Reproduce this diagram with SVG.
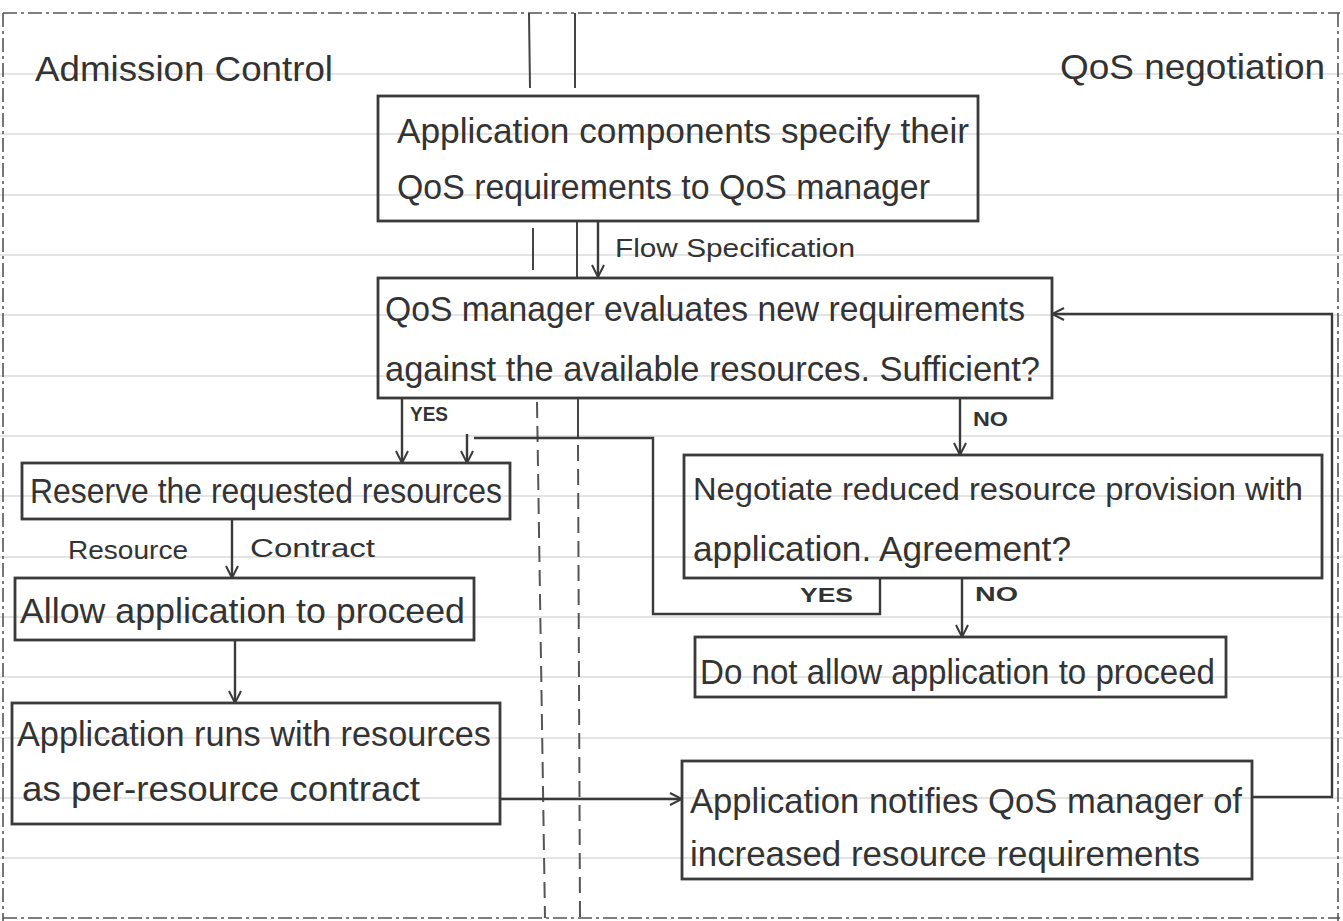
<svg xmlns="http://www.w3.org/2000/svg" width="1343" height="921" viewBox="0 0 1343 921">
<defs>
<style>
.rule{stroke:#c9c9c9;stroke-width:1.2}
.border{stroke:#555;stroke-width:1.6;stroke-dasharray:14 4 3 4;fill:none}
.div{stroke:#444;stroke-width:2;fill:none}
.dash{stroke:#555;stroke-width:2;stroke-dasharray:16 8;fill:none}
.box{fill:none;stroke:#3a3a3a;stroke-width:2.8}
.conn{fill:none;stroke:#3a3a3a;stroke-width:2.4}
.t{font-family:"Liberation Sans",Arial,sans-serif;fill:#333;font-size:35px}
.s{font-family:"Liberation Sans",Arial,sans-serif;fill:#333;font-size:25px}
.l{font-family:"Liberation Sans",Arial,sans-serif;fill:#333;font-size:20px;font-weight:bold}
</style>
<marker id="arr" viewBox="0 0 14 14" refX="13" refY="7" markerWidth="14" markerHeight="14" markerUnits="userSpaceOnUse" orient="auto">
<path d="M1,1 L13,7 L1,13" fill="none" stroke="#3a3a3a" stroke-width="2"/>
</marker>
</defs>
<rect x="0" y="0" width="1343" height="921" fill="#fff"/>
<g id="paper">
<line class="rule" x1="0" y1="74" x2="1343" y2="74"/>
<line class="rule" x1="0" y1="134" x2="1343" y2="134"/>
<line class="rule" x1="0" y1="195" x2="1343" y2="195"/>
<line class="rule" x1="0" y1="255" x2="1343" y2="255"/>
<line class="rule" x1="0" y1="315" x2="1343" y2="315"/>
<line class="rule" x1="0" y1="376" x2="1343" y2="376"/>
<line class="rule" x1="0" y1="436" x2="1343" y2="436"/>
<line class="rule" x1="0" y1="496" x2="1343" y2="496"/>
<line class="rule" x1="0" y1="557" x2="1343" y2="557"/>
<line class="rule" x1="0" y1="617" x2="1343" y2="617"/>
<line class="rule" x1="0" y1="677" x2="1343" y2="677"/>
<line class="rule" x1="0" y1="738" x2="1343" y2="738"/>
<line class="rule" x1="0" y1="798" x2="1343" y2="798"/>
<line class="rule" x1="0" y1="858" x2="1343" y2="858"/>
<path class="border" d="M3,13 H1340 M3,13 V921 M1338,13 V921 M3,918 H1340"/>
</g>
<g id="lanes">
<line class="div" x1="529" y1="13" x2="530" y2="88"/>
<line class="div" x1="575" y1="13" x2="575" y2="88"/>
<line class="div" x1="533" y1="228" x2="533" y2="270"/>
<line class="div" x1="577" y1="222" x2="577" y2="277"/>
<line class="div" x1="578" y1="398" x2="578" y2="438"/>
<line class="dash" x1="537" y1="402" x2="545" y2="918"/>
<line class="dash" x1="578" y1="445" x2="580" y2="918"/>
<text class="t" x="35" y="81" textLength="298" lengthAdjust="spacingAndGlyphs">Admission Control</text>
<text class="t" x="1060" y="79" textLength="265" lengthAdjust="spacingAndGlyphs">QoS negotiation</text>
</g>
<g id="connectors">
<line class="conn" x1="598" y1="221" x2="598" y2="277" marker-end="url(#arr)"/>
<line class="conn" x1="402" y1="398" x2="402" y2="463" marker-end="url(#arr)"/>
<path class="conn" d="M880,578 V614 H653 V438 H474"/>
<line class="conn" x1="467" y1="434" x2="467" y2="463" marker-end="url(#arr)"/>
<line class="conn" x1="960" y1="398" x2="960" y2="455" marker-end="url(#arr)"/>
<line class="conn" x1="962" y1="578" x2="962" y2="637" marker-end="url(#arr)"/>
<line class="conn" x1="232" y1="519" x2="232" y2="578" marker-end="url(#arr)"/>
<line class="conn" x1="235" y1="640" x2="235" y2="703" marker-end="url(#arr)"/>
<line class="conn" x1="500" y1="799" x2="682" y2="799" marker-end="url(#arr)"/>
<path class="conn" d="M1252,797 H1332 V314 H1052" marker-end="url(#arr)"/>
<text class="s" x="615" y="257" textLength="240" lengthAdjust="spacingAndGlyphs">Flow Specification</text>
<text class="l" x="410" y="421" textLength="38" lengthAdjust="spacingAndGlyphs">YES</text>
<text class="l" x="973" y="426" textLength="35" lengthAdjust="spacingAndGlyphs">NO</text>
<text class="s" x="68" y="559" textLength="120" lengthAdjust="spacingAndGlyphs">Resource</text>
<text class="s" x="250" y="557" textLength="125" lengthAdjust="spacingAndGlyphs">Contract</text>
<text class="l" x="800" y="602" textLength="53" lengthAdjust="spacingAndGlyphs">YES</text>
<text class="l" x="975" y="601" textLength="43" lengthAdjust="spacingAndGlyphs">NO</text>
</g>
<g id="n-specify">
<rect class="box" x="378" y="96" width="600" height="125"/>
<text class="t" x="397" y="143" textLength="572" lengthAdjust="spacingAndGlyphs">Application components specify their</text>
<text class="t" x="397" y="199" textLength="533" lengthAdjust="spacingAndGlyphs">QoS requirements to QoS manager</text>
</g>
<g id="n-evaluate">
<rect class="box" x="378" y="278" width="674" height="120"/>
<text class="t" x="385" y="321" textLength="640" lengthAdjust="spacingAndGlyphs">QoS manager evaluates new requirements</text>
<text class="t" x="385" y="381" textLength="655" lengthAdjust="spacingAndGlyphs">against the available resources. Sufficient?</text>
</g>
<g id="n-reserve">
<rect class="box" x="22" y="463" width="488" height="56"/>
<text class="t" x="30" y="503" textLength="472" lengthAdjust="spacingAndGlyphs">Reserve the requested resources</text>
</g>
<g id="n-allow">
<rect class="box" x="15" y="578" width="459" height="62"/>
<text class="t" x="20" y="623" textLength="445" lengthAdjust="spacingAndGlyphs">Allow application to proceed</text>
</g>
<g id="n-runs">
<rect class="box" x="12" y="703" width="488" height="121"/>
<text class="t" x="17" y="746" textLength="474" lengthAdjust="spacingAndGlyphs">Application runs with resources</text>
<text class="t" x="22" y="801" textLength="398" lengthAdjust="spacingAndGlyphs">as per-resource contract</text>
</g>
<g id="n-negotiate">
<rect class="box" x="684" y="455" width="638" height="123"/>
<text class="t" x="693" y="500" font-size="31" style="font-size:31px" textLength="610" lengthAdjust="spacingAndGlyphs">Negotiate reduced resource provision with</text>
<text class="t" x="693" y="561" textLength="378" lengthAdjust="spacingAndGlyphs">application. Agreement?</text>
</g>
<g id="n-deny">
<rect class="box" x="695" y="637" width="531" height="60"/>
<text class="t" x="700" y="684" textLength="515" lengthAdjust="spacingAndGlyphs">Do not allow application to proceed</text>
</g>
<g id="n-notify">
<rect class="box" x="682" y="761" width="570" height="118"/>
<text class="t" x="690" y="813" textLength="552" lengthAdjust="spacingAndGlyphs">Application notifies QoS manager of</text>
<text class="t" x="690" y="866" textLength="510" lengthAdjust="spacingAndGlyphs">increased resource requirements</text>
</g>
</svg>
